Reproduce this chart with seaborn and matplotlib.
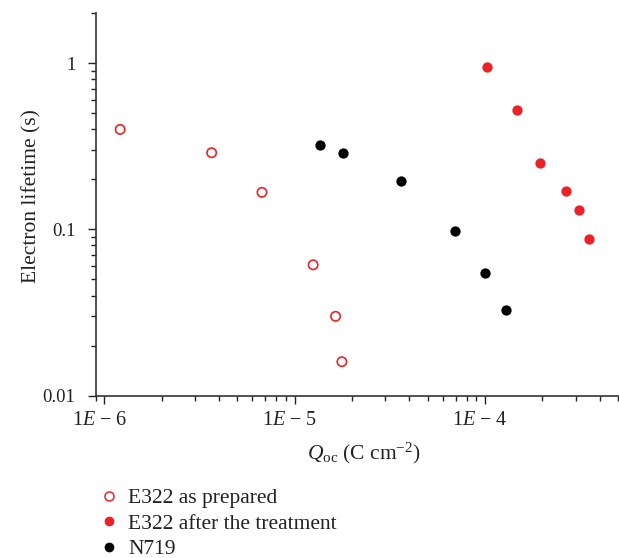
import numpy as np
import pandas as pd
import matplotlib
matplotlib.use("Agg")
import matplotlib.pyplot as plt
import seaborn as sns
from matplotlib.lines import Line2D
from matplotlib.ticker import LogLocator, NullFormatter
from matplotlib.transforms import ScaledTranslation

sns.set_style("ticks")
plt.rcParams["font.family"] = ["Liberation Serif", "DejaVu Serif"]
plt.rcParams["mathtext.fontset"] = "custom"
plt.rcParams["mathtext.rm"] = "Liberation Serif"
plt.rcParams["mathtext.it"] = "Liberation Serif:italic"

# Data
e322_prep_q = [1.21e-6, 3.66e-6, 6.73e-6, 1.25e-5, 1.64e-5, 1.77e-5]
e322_prep_tau = [0.399, 0.289, 0.167, 0.0612, 0.030, 0.016]
e322_treat_q = [1.02e-4, 1.47e-4, 1.955e-4, 2.65e-4, 3.13e-4, 3.51e-4]
e322_treat_tau = [0.950, 0.524, 0.2515, 0.170, 0.1306, 0.0874]
n719_q = [1.354e-5, 1.80e-5, 3.61e-5, 6.95e-5, 1.004e-4, 1.29e-4]
n719_tau = [0.321, 0.286, 0.195, 0.0977, 0.0546, 0.0326]

labels = ["E322 as prepared", "E322 after the treatment", "N719"]
xticks = [1e-6, 1e-5, 1e-4]
xticklabels = [r"1$E$ − 6", r"1$E$ − 5", r"1$E$ − 4"]
yticks = [0.01, 0.1, 1]
yticklabels = ["0.01", "0.1", "1"]

red = "#EC2227"
txt = "#222222"

fig = plt.figure(figsize=(6.19, 5.58), dpi=100)
ax = fig.add_axes([0.1546, 0.2909, 0.8438, 0.6858])

sns.scatterplot(x=e322_prep_q, y=e322_prep_tau, ax=ax, marker="o", s=45,
                facecolor="none", edgecolor=red, linewidth=1.2, zorder=3)
sns.scatterplot(x=e322_treat_q, y=e322_treat_tau, ax=ax, marker="o", s=55,
                color=red, edgecolor=red, linewidth=0, zorder=3)
sns.scatterplot(x=n719_q, y=n719_tau, ax=ax, marker="o", s=55,
                color="black", edgecolor="black", linewidth=0, zorder=3)

ax.set_xscale("log")
ax.set_yscale("log")
ax.set_xlim(9e-7, 5e-4)
ax.set_ylim(0.01, 2.0)

ax.set_xticks(xticks)
ax.set_xticklabels(xticklabels)
ax.set_yticks(yticks)
ax.set_yticklabels(yticklabels)
ax.xaxis.set_minor_locator(LogLocator(base=10, subs=np.arange(2, 10)))
ax.yaxis.set_minor_locator(LogLocator(base=10, subs=np.arange(2, 10)))
ax.xaxis.set_minor_formatter(NullFormatter())
ax.yaxis.set_minor_formatter(NullFormatter())

ax.tick_params(which="major", length=6, width=1.0, color="#222222",
               labelcolor=txt, direction="out", pad=4)
ax.tick_params(axis="x", which="major", labelsize=14.5, pad=5)
ax.tick_params(axis="y", which="major", labelsize=13.5, pad=8.5)
ax.tick_params(which="minor", length=3.5, width=1.0, color="#222222",
               direction="out")

for lab in ax.get_xticklabels():
    lab.set_transform(lab.get_transform() + ScaledTranslation(-5 / 100, 0, fig.dpi_scale_trans))

for side in ["top", "right"]:
    ax.spines[side].set_visible(False)
for side in ["left", "bottom"]:
    ax.spines[side].set_color("#333333")
    ax.spines[side].set_linewidth(1.2)

ax.set_xlabel(r"$Q_{\mathrm{oc}}$ (C cm$^{-2}$)", fontsize=15.5, color=txt)
ax.set_ylabel("Electron lifetime (s)", fontsize=15.5, color=txt)
ax.xaxis.set_label_coords(0.514, -0.117)
ax.yaxis.set_label_coords(-0.104, 0.522)

handles = [
    Line2D([], [], linestyle="none", marker="o", markersize=6.5,
           markerfacecolor="none", markeredgecolor=red, markeredgewidth=1.1),
    Line2D([], [], linestyle="none", marker="o", markersize=7,
           markerfacecolor=red, markeredgecolor=red, markeredgewidth=0),
    Line2D([], [], linestyle="none", marker="o", markersize=7,
           markerfacecolor="black", markeredgecolor="black", markeredgewidth=0),
]
leg = fig.legend(handles, labels, loc="upper left", bbox_to_anchor=(0.158, 0.1255),
                 frameon=False, fontsize=15.5, handlelength=1.0, handletextpad=0.4,
                 labelspacing=0.26, borderpad=0, borderaxespad=0)
for t in leg.get_texts():
    t.set_color(txt)

fig.savefig("out.png", dpi=100)
